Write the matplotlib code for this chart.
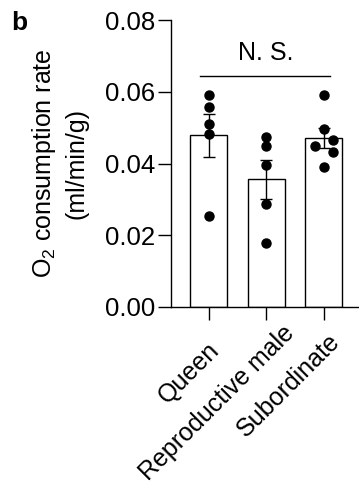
import numpy as np
import matplotlib
matplotlib.use("Agg")
import matplotlib.pyplot as plt
from matplotlib.transforms import ScaledTranslation

# Data (ml/min/g)
groups = ['Queen', 'Reproductive male', 'Subordinate']
queen = [0.0592, 0.0558, 0.0509, 0.0482, 0.0253]
repro_male = [0.0473, 0.0448, 0.0395, 0.0286, 0.0179]
subordinate = [0.0591, 0.0495, 0.0450, 0.0465, 0.0432, 0.0391]
y_ticks = [0.00, 0.02, 0.04, 0.06, 0.08]
sig_label = 'N. S.'

# horizontal jitter of the points (layout only)
offsets = [
    [0, 0, 0, 0, 0],
    [0, 0, 0, 0, 0],
    [0, 0, -0.16, 0.16, 0.16, 0],
]
# label centre shift from tick end, in pixels (layout only)
label_shift = [(-20, -54), (-49, -84), (-35, -66)]

plt.rcParams['font.family'] = ['Liberation Sans', 'DejaVu Sans']
plt.rcParams['mathtext.fontset'] = 'custom'
plt.rcParams['mathtext.rm'] = 'Liberation Sans'
plt.rcParams['mathtext.it'] = 'Liberation Sans'

fig = plt.figure(figsize=(3.59, 4.91), dpi=100)
ax = fig.add_axes([0.476, 0.375, 0.524, 0.584])

series = [queen, repro_male, subordinate]
x = np.arange(len(groups))
means = [np.mean(s) for s in series]
sems = [np.std(s, ddof=1) / np.sqrt(len(s)) for s in series]

ax.bar(x, means, width=0.64, color='white', edgecolor='black', linewidth=1.0, zorder=1)
ax.errorbar(x, means, yerr=sems, fmt='none', ecolor='black', elinewidth=1.0,
            capsize=4, capthick=1.0, zorder=2)
for i, s in enumerate(series):
    ax.plot(x[i] + np.array(offsets[i]), s, 'o', color='black', markersize=6.5, zorder=3)

# significance bar
ax.plot([-0.15, 2.1], [0.0644, 0.0644], color='black', linewidth=1.0)
ax.text(0.99, 0.0675, sig_label, ha='center', va='bottom', fontsize=18)

ax.set_ylim(0, 0.08)
ax.set_xlim(-0.66, 2.61)
ax.set_yticks(y_ticks)
ax.set_yticklabels(['%.2f' % v for v in y_ticks], fontsize=18.5)
ax.set_xticks(x)
ax.set_xticklabels(groups, rotation=45, ha='center', va='center',
                   rotation_mode='anchor', fontsize=18)
ax.tick_params(axis='y', length=9.5, width=1.0, pad=1.5)
ax.tick_params(axis='x', length=9, width=1.0, pad=0)
for lab, (dx, dy) in zip(ax.get_xticklabels(), label_shift):
    lab.set_transform(lab.get_transform() + ScaledTranslation(dx / 100, dy / 100, fig.dpi_scale_trans))
for side in ['top', 'right']:
    ax.spines[side].set_visible(False)
for side in ['left', 'bottom']:
    ax.spines[side].set_linewidth(1.0)

ax.set_ylabel('O$_2$ consumption rate\n(ml/min/g)', fontsize=18, labelpad=12,
              multialignment='center', linespacing=1.35)

fig.text(0.03, 0.978, 'b', fontsize=19, fontweight='bold', va='top', ha='left')

fig.savefig('out.png', dpi=100)
